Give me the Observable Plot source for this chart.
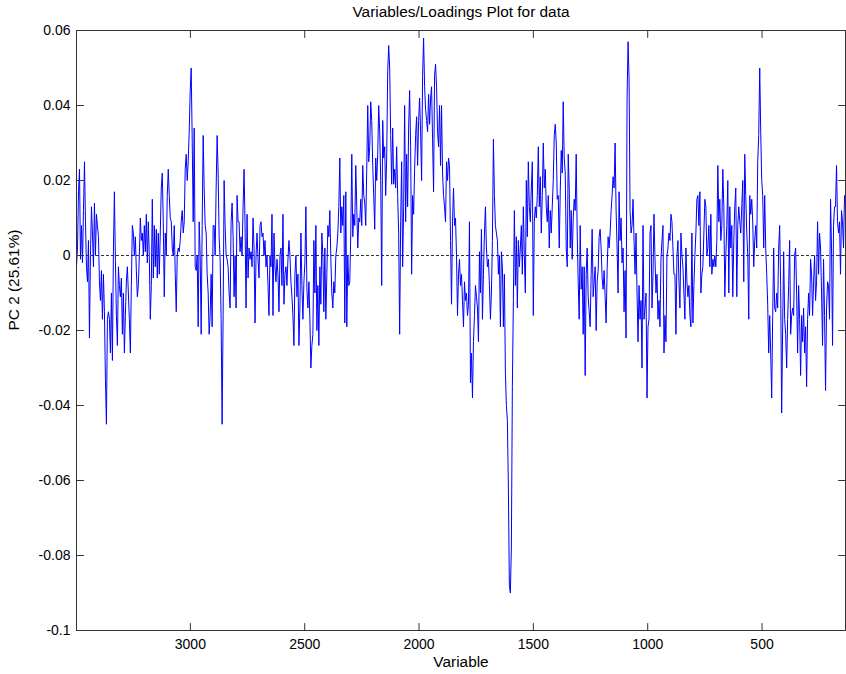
<!DOCTYPE html>
<html>
<head>
<meta charset="utf-8">
<script src="https://cdn.jsdelivr.net/npm/d3@7"></script>
<script src="https://cdn.jsdelivr.net/npm/@observablehq/plot@0.6"></script>
<style>
  html, body { margin: 0; padding: 0; background: #fff; }
  #chart svg { display: block; }
</style>
</head>
<body>
<div id="chart"></div>
<script>
// PC 2 loadings (in units of 1e-3), one value per variable column, from variable 3498 down to 135
const pc2Milli = [
  -3,2,17,23,-1,8,-2,12,25,9,-3,-7,4,-22,0,13,6,-3,14,0,11,8,5,-7,-12,-4,-17,-5,-15,-33,
  -45,-17,-15,-17,-26,-10,-28,1,17,-1,-16,-24,-3,-8,-11,-6,-21,-10,-26,-16,-7,-3,-10,-17,-26,-8,8,6,0,5,
  -4,-11,-8,0,10,4,6,0,8,1,11,-2,9,0,-17,-8,15,
  -6,8,-3,7,-6,6,-5,6,18,22,9,-11,6,0,16,23,16,10,9,2,0,8,-5,-15,0,2,1,4,9,12,
  6,9,23,27,20,25,33,44,50,31,9,34,-3,-4,0,-19,9,0,-21,8,32,18,8,6,-5,-10,-21,-16,-5,-19,
  8,8,0,18,32,22,5,-1,-17,-45,-16,20,8,0,-1,-3,-10,-14,9,14,
  5,-11,0,-14,16,9,9,1,5,0,13,23,8,-14,11,-6,2,-1,1,-3,10,2,-18,0,6,-1,-6,8,9,5,
  6,0,4,-3,0,-8,-16,0,-3,11,-16,6,-3,-7,-1,-5,-15,0,2,-8,11,-13,-5,-3,-8,-1,4,0,-7,-11,
  -16,-24,-5,0,-11,-5,-24,-14,6,-8,-17,-7,-2,13,-9,-14,-7,-17,-30,-24,
  -21,4,-10,8,-20,-8,-24,-3,-13,6,0,-15,2,-17,-5,8,5,12,-1,-10,-14,-7,-10,0,2,6,13,26,6,13,
  8,16,-18,17,-19,0,-8,-7,6,27,5,11,8,24,13,2,10,9,15,8,24,16,14,8,23,40,25,29,41,36,
  24,16,7,26,20,27,40,33,20,-8,36,26,29,16,26,49,56,50,32,19,
  34,19,23,18,29,16,6,-21,9,25,-3,13,40,9,27,13,34,44,29,-5,16,11,23,32,37,24,36,42,33,20,
  48,58,45,39,36,33,43,35,42,45,31,17,48,51,45,33,29,40,24,40,22,16,13,9,25,20,26,24,4,-13,
  9,18,8,10,0,-16,-5,-1,-8,-5,-12,-19,-7,-12,-10,-16,-13,9,-34,-26,-38,
  -23,-16,-8,-11,-14,-23,1,-10,7,-17,-5,6,13,2,-3,-1,-8,-17,-10,4,31,16,8,6,4,-5,0,-19,1,-3,
  -19,-5,-31,-40,-44,-62,-88,-90,-78,-35,-12,
  12,-8,5,-14,4,-3,2,8,-5,13,0,-10,20,5,25,13,9,18,25,-16,9,13,10,16,29,13,21,6,16,30,
  18,23,13,9,16,2,12,6,13,
  20,32,35,30,15,16,2,17,28,22,41,26,22,2,-3,27,18,2,12,-1,10,15,12,27,6,-7,-17,8,-9,-3,
  -21,-3,-32,-5,2,-11,-15,-19,-5,7,-11,-7,-3,-20,-7,-4,5,7,2,-6,-9,-4,-11,-18,-4,5,2,6,12,16,
  21,18,30,12,2,-10,17,4,10,-2,2,-15,-4,-22,42,57,47,12,6,
  8,15,4,-5,6,-10,-23,-8,-17,-12,-30,8,-17,-14,-10,-38,-19,-17,6,8,-14,-5,11,-1,-10,-5,-17,-12,-19,-1,
  4,8,-26,-16,-23,0,2,6,4,11,9,2,-5,-5,-21,0,4,-7,-14,6,0,-3,-10,-17,2,-7,-11,-8,-16,-19,
  6,-18,-8,0,6,15,16,8,17,-10,-5,-3,6,15,13,0,2,8,-3,11,
  -5,-1,-3,0,-3,4,24,9,15,4,8,23,13,-11,0,8,20,-10,13,2,8,-11,4,13,18,-11,8,13,9,6,
  13,20,-7,27,16,6,0,-17,16,11,15,9,-3,4,8,2,25,32,50,33,20,16,2,16,2,-5,-13,-26,-16,-26,
  -38,-16,2,-14,-15,-10,-14,2,8,-8,-42,-19,1,-17,-21,-30,-17,-8,4,-21,-16,
  -14,-16,0,2,-10,-26,-8,-17,-32,-16,-23,-14,-26,-19,-35,-17,-10,-16,-1,-5,-16,-7,0,-12,-7,9,-5,6,2,-10,
  -24,-1,-16,-36,-14,-7,-8,-17,15,2,-24,8,13,13,24,9,6,9,-5,12,9,2,16,13
];

// variable range covered by the columns (axis runs right to left)
const variableFirst = 3498;
const variableLast = 135;

const xTicks = [3000, 2500, 2000, 1500, 1000, 500];
const yTicks = [0.06, 0.04, 0.02, 0, -0.02, -0.04, -0.06, -0.08, -0.1];

const titleText = "Variables/Loadings Plot for data";
const xLabelText = "Variable";
const yLabelText = "PC 2 (25.61%)";

const n = pc2Milli.length;
const loadings = pc2Milli.map((v, i) => ({
  variable: variableFirst + (variableLast - variableFirst) * i / (n - 1),
  loading: v / 1000
}));

// plain straight tick mark for Plot.vector
const tickShape = {
  draw(context, l) {
    context.moveTo(0, 0);
    context.lineTo(0, -l);
  }
};
const tickStyle = {stroke: "#333", strokeWidth: 1, shape: tickShape, anchor: "start", length: 7};

const chart = Plot.plot({
  width: 846,
  height: 674,
  marginTop: 30,
  marginBottom: 44,
  marginLeft: 76,
  marginRight: 1,
  style: {fontFamily: "'Liberation Sans', Arial, sans-serif", fontSize: "14px", background: "#fff", color: "#000"},
  x: {domain: [variableFirst, variableLast], label: null},
  y: {domain: [-0.1, 0.06], label: null},
  marks: [
    Plot.ruleY([0], {stroke: "#000", strokeWidth: 0.8, strokeDasharray: "3,2"}),
    Plot.line(loadings, {x: "variable", y: "loading", stroke: "#0000ff", strokeWidth: 1, clip: true}),
    Plot.frame({stroke: "#333", strokeWidth: 1}),
    // inward ticks on all four sides
    Plot.vector(xTicks, {x: d => d, frameAnchor: "bottom", rotate: 0, ...tickStyle}),
    Plot.vector(xTicks, {x: d => d, frameAnchor: "top", rotate: 180, ...tickStyle}),
    Plot.vector(yTicks, {y: d => d, frameAnchor: "left", rotate: 90, ...tickStyle}),
    Plot.vector(yTicks, {y: d => d, frameAnchor: "right", rotate: 270, ...tickStyle}),
    Plot.axisX(xTicks, {tickSize: 0, tickPadding: 9, tickFormat: d => String(d), label: null}),
    Plot.axisY(yTicks, {tickSize: 0, tickPadding: 6, tickFormat: d => String(+d.toFixed(2)), label: null}),
    Plot.text([titleText], {frameAnchor: "top", lineAnchor: "middle", dy: -18, fontSize: 15.4}),
    Plot.text([xLabelText], {frameAnchor: "bottom", lineAnchor: "middle", dy: 32, fontSize: 15.4}),
    Plot.text([yLabelText], {frameAnchor: "left", lineAnchor: "middle", dx: -62, rotate: -90, fontSize: 15.4})
  ]
});

document.getElementById("chart").appendChild(chart);
</script>
</body>
</html>
